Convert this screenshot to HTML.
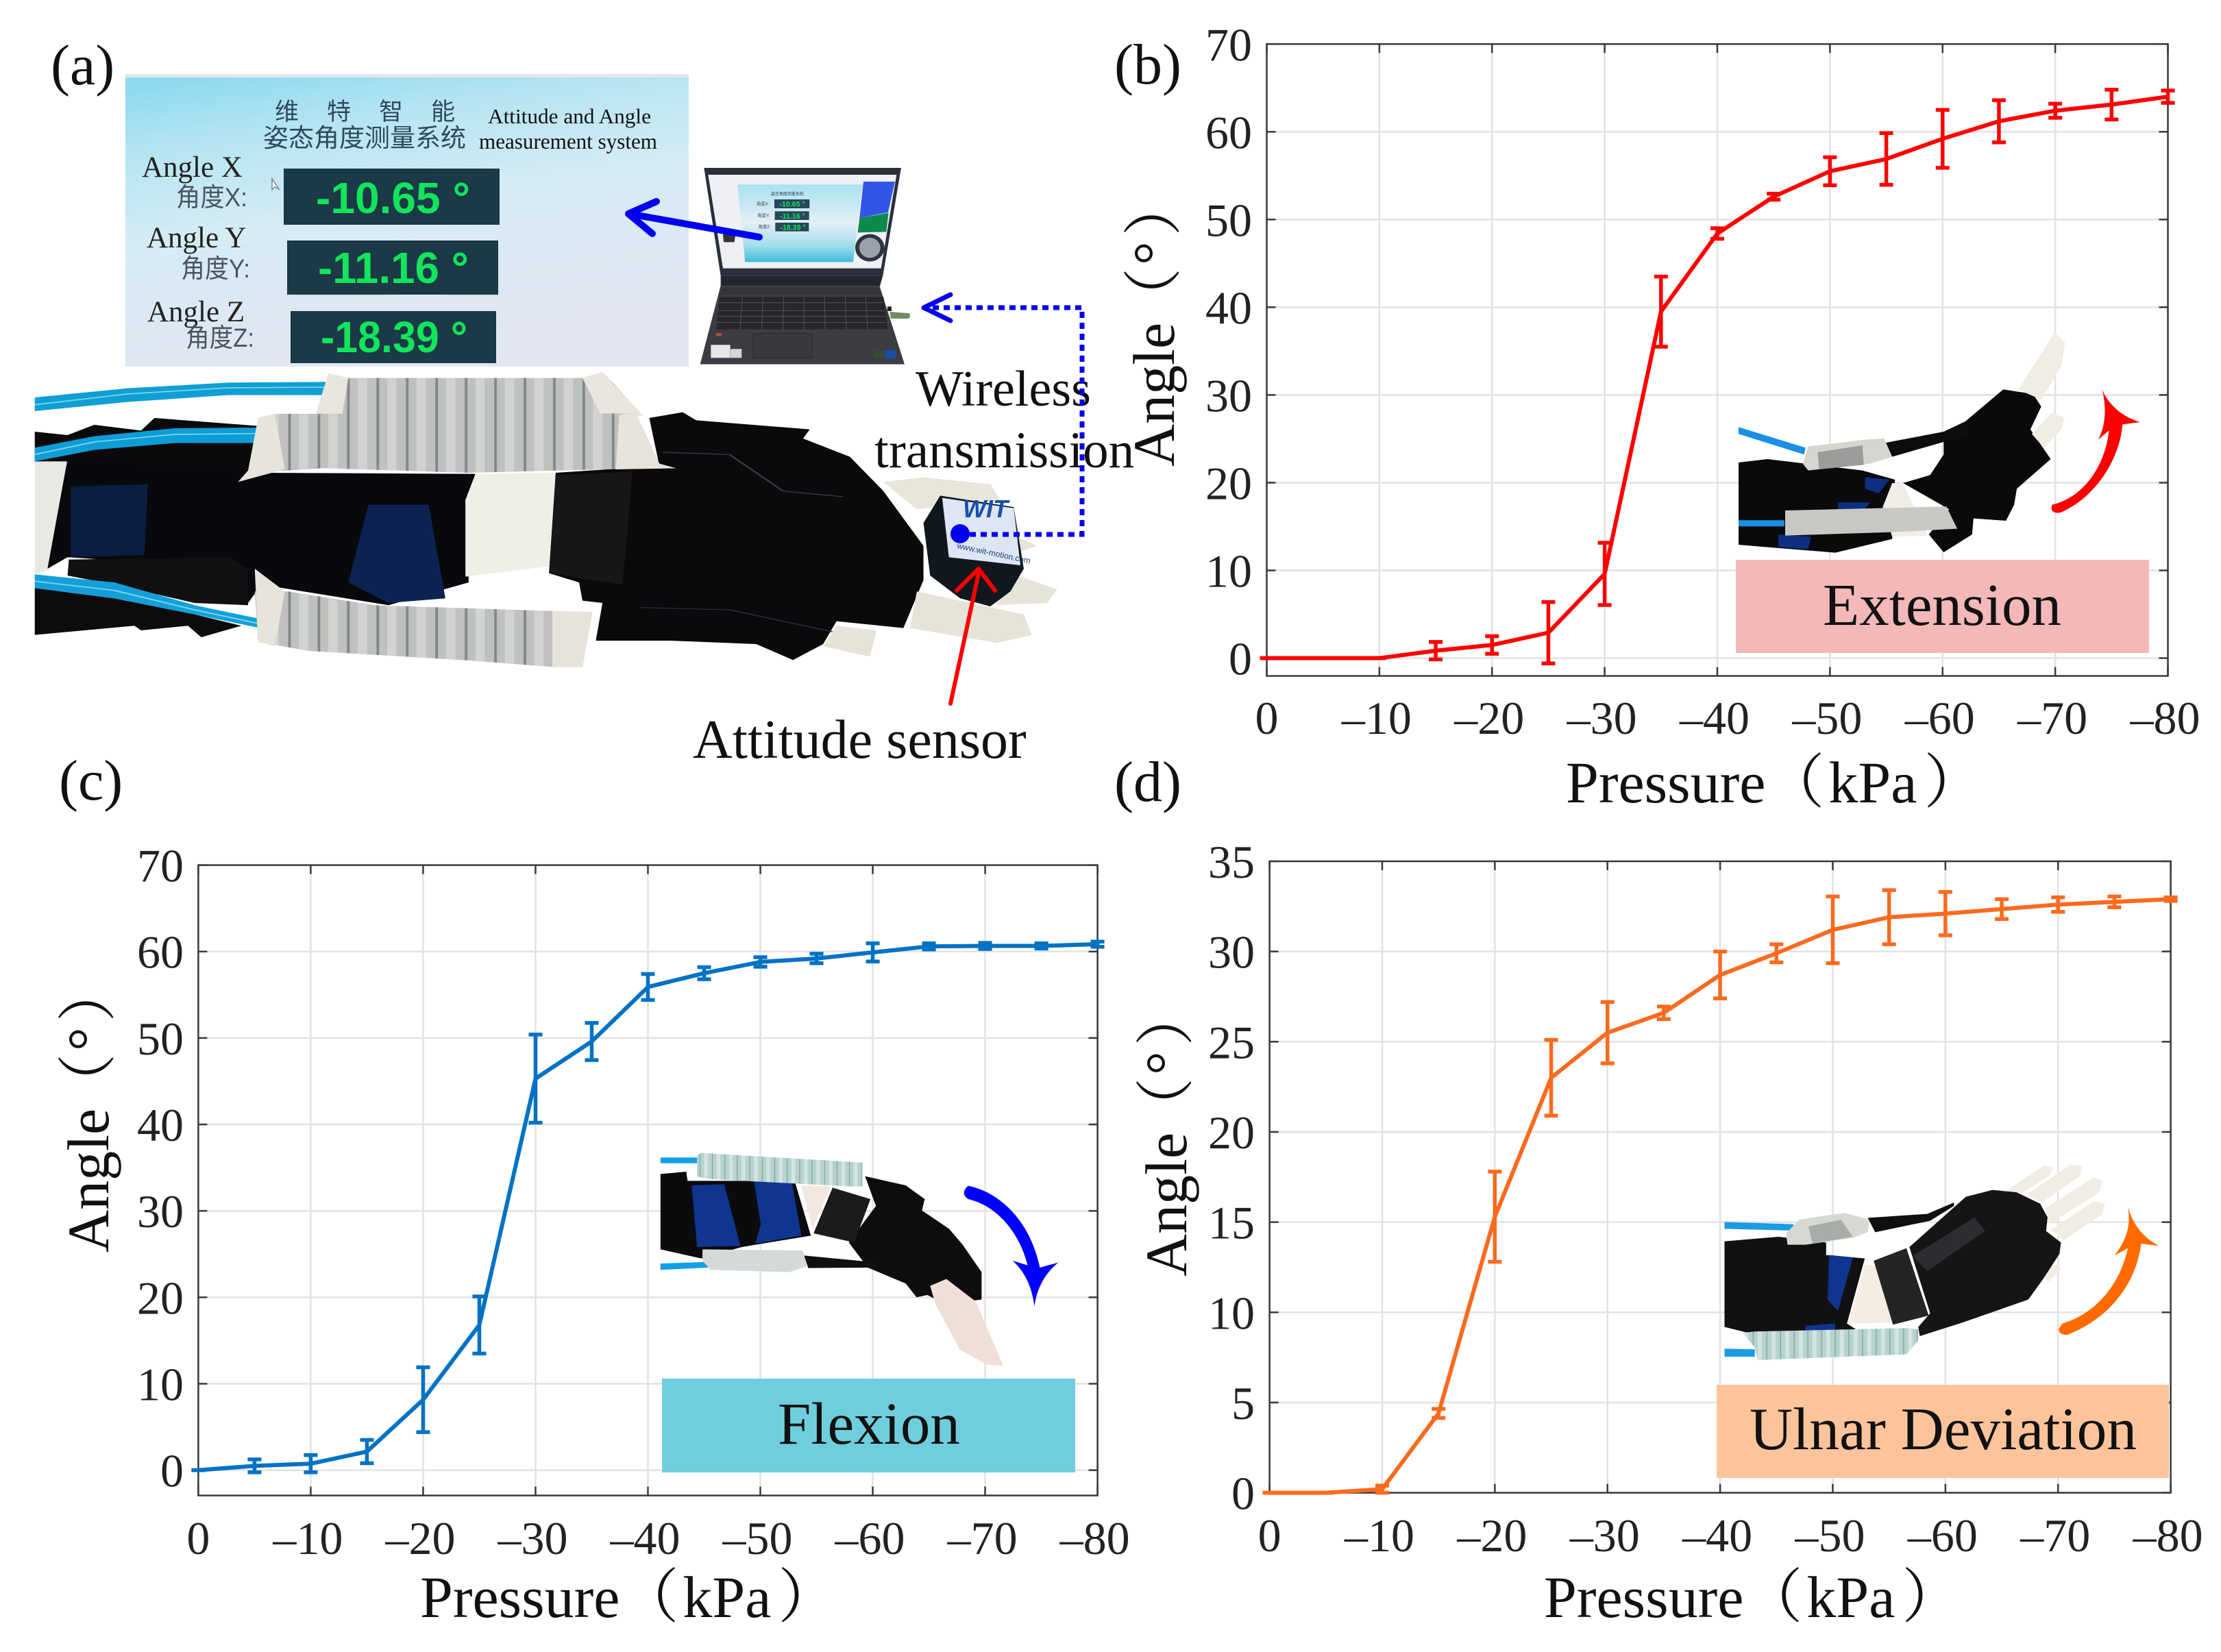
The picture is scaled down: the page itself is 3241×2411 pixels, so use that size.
<!DOCTYPE html>
<html lang="en">
<head>
<meta charset="utf-8">
<title>Wearable wrist actuator: angle versus pressure</title>
<style>
html,body{margin:0;padding:0;background:#fff;}
svg{display:block;}
text{font-family:"Liberation Serif","Noto Serif CJK SC",serif;fill:#111;}
.tick{font-size:68px;fill:#222;}
.title{font-size:86px;fill:#111;}
.panel{font-size:84px;fill:#111;}
.cn{font-family:"Liberation Sans","Noto Sans CJK SC",sans-serif;}
.lcd{font-family:"Liberation Sans",sans-serif;font-weight:700;fill:#12e45c;}
</style>
</head>
<body>
<svg id="figure" xmlns="http://www.w3.org/2000/svg" width="3241" height="2411" viewBox="0 0 3241 2411">
<defs>
<linearGradient id="screenGrad" x1="0" y1="0" x2="0.3" y2="1">
<stop offset="0" stop-color="#86d8ee"/><stop offset="0.25" stop-color="#b5e4f2"/><stop offset="0.55" stop-color="#d6ecf5"/><stop offset="1" stop-color="#e2e5f2"/>
</linearGradient>
<linearGradient id="miniGrad" x1="0" y1="0" x2="0" y2="1">
<stop offset="0" stop-color="#a8e2f1"/><stop offset="0.5" stop-color="#e4eff6"/><stop offset="0.8" stop-color="#9fdcea"/><stop offset="1" stop-color="#3cbcdc"/>
</linearGradient>
<pattern id="coil" patternUnits="userSpaceOnUse" width="44" height="120">
<rect width="44" height="120" fill="#bfc1bf"/><rect x="10" width="14" height="120" fill="#d2d3d0"/><rect x="38" width="4" height="120" fill="#84878a"/>
</pattern>
<pattern id="coilTeal" patternUnits="userSpaceOnUse" width="46" height="120">
<rect width="46" height="120" fill="#b5d3cf"/><rect x="12" width="14" height="120" fill="#d4e4e0"/><rect x="41" width="3" height="120" fill="#8a9c9a"/>
</pattern>
</defs>
<rect width="3241" height="2411" fill="#ffffff"/>

<g id="chart-b"></g>
<g id="chart-c"></g>
<g id="chart-d"></g>

<!-- panel labels -->
<text class="panel" x="74" y="123">(a)</text>
<text class="panel" x="1626" y="122">(b)</text>
<text class="panel" x="86" y="1167">(c)</text>
<text class="panel" x="1626" y="1169">(d)</text>

<!-- axis titles -->
<text class="title" x="2285" y="1171">Pressure（<tspan dx="6">kPa</tspan><tspan dx="10">）</tspan></text>
<text class="title" x="613" y="2360">Pressure（<tspan dx="6">kPa</tspan><tspan dx="10">）</tspan></text>
<text class="title" x="2253" y="2360">Pressure（<tspan dx="6">kPa</tspan><tspan dx="10">）</tspan></text>
<text class="title" transform="translate(1713 681) rotate(-90)">Angle<tspan dx="-6">（</tspan><tspan dx="4">°</tspan><tspan dx="8">）</tspan></text>
<text class="title" transform="translate(158 1828) rotate(-90)">Angle<tspan dx="-6">（</tspan><tspan dx="4">°</tspan><tspan dx="8">）</tspan></text>
<text class="title" transform="translate(1731 1863) rotate(-90)">Angle<tspan dx="-6">（</tspan><tspan dx="4">°</tspan><tspan dx="8">）</tspan></text>

<!-- panel a : software screen -->
<g>
<rect x="183" y="108" width="822" height="427" fill="url(#screenGrad)"/>
<rect x="183" y="108" width="822" height="5" fill="#e4e7ec"/>
<text class="cn" x="401" y="175" font-size="35" letter-spacing="41" style="fill:#2f4a5c">维特智能</text>
<text class="cn" x="384" y="214" font-size="37" style="fill:#2f4a5c">姿态角度测量系统</text>
<text x="712" y="180" font-size="31" textLength="238" lengthAdjust="spacingAndGlyphs">Attitude and Angle</text>
<text x="699" y="217" font-size="32" textLength="260" lengthAdjust="spacingAndGlyphs">measurement system</text>
<text x="207" y="258" font-size="43" style="fill:#222">Angle X</text>
<text class="cn" x="257" y="301" font-size="38" textLength="104" lengthAdjust="spacingAndGlyphs" style="fill:#4b5560">角度X:</text>
<text x="214" y="361" font-size="43" style="fill:#222">Angle Y</text>
<text class="cn" x="264" y="405" font-size="38" textLength="101" lengthAdjust="spacingAndGlyphs" style="fill:#4b5560">角度Y:</text>
<text x="215" y="469" font-size="43" style="fill:#222">Angle Z</text>
<text class="cn" x="271" y="506" font-size="38" textLength="100" lengthAdjust="spacingAndGlyphs" style="fill:#4b5560">角度Z:</text>
<polygon points="397,261 397,277 401,273 407,276" fill="#fff" stroke="#7a8590" stroke-width="1.5"/>
<rect x="414" y="246" width="315" height="82" fill="#1b3946"/>
<rect x="419" y="351" width="308" height="79" fill="#1b3946"/>
<rect x="424" y="454" width="300" height="76" fill="#1b3946"/>
<text class="lcd" x="461" y="311" font-size="64" textLength="225" lengthAdjust="spacingAndGlyphs">-10.65 °</text>
<text class="lcd" x="464" y="413" font-size="64" textLength="220" lengthAdjust="spacingAndGlyphs">-11.16 °</text>
<text class="lcd" x="468" y="514" font-size="64" textLength="214" lengthAdjust="spacingAndGlyphs">-18.39 °</text>
</g>

<!-- panel a : laptop -->
<g transform="translate(1000 220) scale(.3333)">
<polygon points="82,75 945,75 865,548 155,548" fill="#2b2f3c"/>
<polygon points="100,105 925,105 857,515 165,515" fill="#eef0f5"/>
<polygon points="228,148 775,148 735,487 262,487" fill="url(#miniGrad)"/>
<polygon points="780,135 918,135 888,270 763,295" fill="#3355e6"/>
<polygon points="763,295 890,272 880,355 755,358" fill="#0b8a4c"/>
<ellipse cx="808" cy="425" rx="64" ry="60" fill="#2c3442"/>
<ellipse cx="808" cy="425" rx="46" ry="44" fill="#9aa3ad"/>
<rect x="390" y="213" width="154" height="39" fill="#27465a"/>
<rect x="392" y="265" width="150" height="38" fill="#27465a"/>
<rect x="394" y="315" width="147" height="38" fill="#27465a"/>
<text class="lcd" x="412" y="245" font-size="32">-10.65 °</text>
<text class="lcd" x="414" y="297" font-size="32">-11.16 °</text>
<text class="lcd" x="415" y="346" font-size="32">-18.39 °</text>
<text class="cn" x="312" y="238" font-size="19" style="fill:#444">角度X:</text>
<text class="cn" x="316" y="290" font-size="19" style="fill:#444">角度Y:</text>
<text class="cn" x="320" y="339" font-size="19" style="fill:#444">角度Z:</text>
<text class="cn" x="375" y="195" font-size="18" style="fill:#345">姿态角度测量系统</text>
<polygon points="165,365 220,365 215,400 168,400" fill="#333"/>
<polygon points="155,548 865,548 852,592 155,592" fill="#24252d"/>
<polygon points="155,590 850,590 960,935 65,935" fill="#3c3c43"/>
<polygon points="160,600 850,600 858,632 150,632" fill="#33333a"/>
<polygon points="150,640 868,640 887,782 135,782" fill="#26262c"/>
<g stroke="#55555c" stroke-width="3">
<line x1="148" y1="665" x2="868" y2="665"/><line x1="145" y1="700" x2="872" y2="700"/><line x1="142" y1="725" x2="876" y2="725"/><line x1="138" y1="752" x2="880" y2="752"/>
<line x1="250" y1="640" x2="240" y2="782"/><line x1="340" y1="640" x2="335" y2="782"/><line x1="430" y1="640" x2="428" y2="782"/><line x1="520" y1="640" x2="520" y2="782"/><line x1="610" y1="640" x2="612" y2="782"/><line x1="700" y1="640" x2="705" y2="782"/><line x1="790" y1="640" x2="798" y2="782"/>
</g>
<rect x="297" y="800" width="257" height="107" fill="#38383e" stroke="#29292e" stroke-width="3"/>
<rect x="112" y="850" width="85" height="57" fill="#e8e8e6"/>
<rect x="198" y="868" width="49" height="39" fill="#d5d5d5"/>
<rect x="825" y="875" width="45" height="33" fill="#3a4b30"/>
<rect x="873" y="873" width="49" height="37" fill="#1c4d9e"/>
<rect x="135" y="798" width="24" height="13" fill="#b84a38"/>
<polygon points="895,705 982,712 985,728 975,735 900,735" fill="#6e8d62"/>
<rect x="885" y="682" width="18" height="20" fill="#222"/>
</g>

<!-- panel a : wearable arm -->
<g transform="translate(40 530) scale(.9758 .3333)">
<polygon points="11,430 65,420 35,900 11,925" fill="#e9e9e4"/>
<polygon points="11,300 60,315 100,270 170,295 190,240 345,275 345,480 60,430 11,430" fill="#0a0a0c"/>
<polygon points="60,420 345,480 670,485 655,600 660,960 540,1060 350,970 330,1050 330,900 60,850 30,900" fill="#08090c"/>
<polygon points="11,985 130,1030 250,1100 320,1150 260,1200 240,1150 170,1170 160,1150 11,1190" fill="#0c0c0e"/>
<polygon points="62,860 300,850 330,900 330,1060 250,1050 130,970 60,930" fill="#111114"/>
<polygon points="65,540 180,530 175,840 65,850" fill="#0b1d42"/>
<polygon points="510,620 600,620 625,1030 540,1050 480,960" fill="#0c2352"/>
<polygon points="670,485 790,480 780,890 655,935 655,600" fill="#efefe8"/>
<polygon points="790,480 945,450 930,240 980,215 1000,250 1170,290 1160,330 1230,410 1280,560 1340,800 1340,950 1310,1160 1210,1130 1190,1230 1145,1300 1090,1230 960,1215 850,1215 860,1050 830,1040 825,960 780,920" fill="#0a0a0d"/>
<polygon points="790,490 905,475 890,970 780,920" fill="#17171a"/>
<polyline points="950,390 1050,400 1130,560 1220,585" fill="none" stroke="#3a3a3e" stroke-width="4"/>
<polyline points="915,1070 1050,1080 1210,1180" fill="none" stroke="#2e2e32" stroke-width="4"/>
<polygon points="1280,520 1340,500 1440,530 1455,600 1330,640" fill="#e8e6da"/>
<polygon points="1330,1000 1490,1100 1502,1190 1450,1225 1320,1160" fill="#e6e4d8"/>
<polygon points="1480,930 1540,990 1525,1050 1450,1060 1440,1000" fill="#e6e4d8"/>
<polygon points="1210,1150 1270,1170 1260,1285 1190,1240" fill="#e6e4d8"/>
<polygon points="1480,760 1510,800 1480,830" fill="#e6e4d8"/>
<polygon points="11,150 150,110 300,85 448,82 448,140 300,140 150,170 11,210" fill="#0f9fd4"/>
<polyline points="11,182 150,135 300,108 448,105" fill="none" stroke="#7fd4ee" stroke-width="5"/>
<polygon points="11,370 100,320 220,285 345,282 345,350 220,350 100,380 11,430" fill="#0e9dd6"/>
<polyline points="11,400 100,345 220,312 345,308" fill="none" stroke="#7fd4ee" stroke-width="5"/>
<polygon points="11,925 130,960 250,1060 348,1120 345,1158 250,1100 130,1030 11,985" fill="#13a0d8"/>
<polyline points="11,955 130,995 250,1080 345,1140" fill="none" stroke="#7fd4ee" stroke-width="5"/>
<polygon points="450,45 480,65 830,65 860,40 880,100 920,230 800,260 450,240 430,235" fill="url(#coil)"/>
<polygon points="450,45 480,65 470,235 430,235" fill="#e8e6de"/>
<polygon points="830,65 860,40 920,230 860,240" fill="#e8e6de"/>
<polygon points="345,240 370,222 910,220 945,440 970,460 860,465 660,480 440,460 340,480 345,350" fill="url(#coil)"/>
<polygon points="345,240 370,222 385,465 315,520 330,470" fill="#e6e4db"/>
<polygon points="885,225 910,220 945,440 970,460 880,465" fill="#e6e4db"/>
<polygon points="340,1000 390,1000 520,1060 780,1085 845,1090 830,1330 785,1330 650,1300 420,1260 345,1220" fill="url(#coil)"/>
<polygon points="340,900 385,1000 370,1240 345,1220" fill="#e6e4db"/>
<polygon points="785,1085 845,1090 830,1330 785,1330" fill="#e6e4db"/>
<polygon points="1365,580 1475,630 1490,900 1470,1000 1440,1065 1395,1030 1350,930 1340,700" fill="#10171f"/>
<polygon points="1368,590 1475,635 1485,885 1378,850" fill="#dde6f2"/>
</g>
<text x="1405" y="755" font-size="36" font-weight="700" font-style="italic" style="fill:#1d4fa8;font-family:'Liberation Sans',sans-serif">WIT</text>
<text transform="translate(1396 800) rotate(12)" font-size="12" style="fill:#1d3f80;font-family:'Liberation Sans',sans-serif">www.wit-motion.com</text>

<text x="1336" y="592" font-size="74">Wireless</text>
<text x="1276" y="682" font-size="75">transmission</text>
<text x="1011" y="1106" font-size="80">Attitude sensor</text>

<g fill="none" stroke-linecap="round">
<polyline points="1108,346 918,312" stroke="#0000ee" stroke-width="10"/>
<polyline points="958,294 917,312 952,341" stroke="#0000ee" stroke-width="10" stroke-linejoin="round"/>
<polyline points="1415,780 1579,780 1579,449 1355,449" stroke="#0000ee" stroke-width="7" stroke-dasharray="9 7" stroke-linecap="butt"/>
<polyline points="1387,430 1348,449 1387,468" stroke="#0000ee" stroke-width="7" stroke-linejoin="round"/>
<circle cx="1401" cy="779" r="14" fill="#0000ee" stroke="none"/>
<polyline points="1387,1027 1429,832" stroke="#ff0000" stroke-width="6"/>
<polyline points="1396,862 1428,830 1452,862" stroke="#ff0000" stroke-width="6" stroke-linejoin="round"/>
</g>

<!-- panel b inset -->
<g transform="translate(2520 470) scale(.3954 .3333)">
<polygon points="43,460 290,550 285,580 43,490" fill="#1a8fe6"/>
<polygon points="43,615 150,600 500,650 620,690 610,950 400,1010 140,985 43,975" fill="#0a0a0c"/>
<polygon points="510,680 600,690 560,750 510,730" fill="#0d2f80"/>
<polygon points="410,790 530,790 500,830 410,820" fill="#0d2f80"/>
<polygon points="190,930 310,940 300,995 190,985" fill="#0d2f80"/>
<polygon points="610,705 650,705 690,810 740,935 610,940 575,810" fill="#f1eee6"/>
<polygon points="650,705 750,670 800,580 800,525 880,435 1020,295 1130,315 1160,370 1120,470 1195,600 1070,730 1060,800 1030,870 910,860 905,930 800,1008 745,930 820,820" fill="#0a0a0b"/>
<polygon points="1075,295 1210,45 1248,90 1235,190 1160,340" fill="#f0ede5"/>
<polygon points="1125,490 1200,395 1245,420 1235,470 1170,550" fill="#f0ede5"/>
<polygon points="580,530 800,480 880,435 900,500 800,525 610,590" fill="#0c0c0e"/>
<polygon points="280,620 300,545 510,515 580,510 610,590 530,620 300,650" fill="#d6d6d0"/>
<polygon points="335,570 500,540 505,625 340,645" fill="#9b9d9a"/>
<polygon points="215,825 810,808 850,905 610,920 215,935" fill="#c8c8c4"/>
<polygon points="43,868 212,868 212,895 43,895" fill="#1a8fe6"/>
<path d="M1200,800 C1310,770 1395,640 1410,475 L1370,515 C1400,450 1400,370 1385,295 C1410,370 1470,420 1525,438 L1460,448 C1450,600 1360,770 1230,835 Q1190,840 1200,800Z" fill="#ff0000"/>
</g>
<rect x="2533" y="817" width="603" height="136" fill="#f4b8b8"/>
<text x="2660" y="912" font-size="87">Extension</text>

<!-- panel c inset -->
<g transform="translate(950 1660) scale(.3954 .3333)">
<polygon points="35,88 170,88 170,113 35,113" fill="#10a0e8"/>
<polygon points="35,552 210,545 210,570 35,580" fill="#10a0e8"/>
<polygon points="35,160 130,150 135,190 530,190 590,430 335,480 185,530 35,490" fill="#0b0b0d"/>
<polygon points="150,210 270,205 330,475 170,480" fill="#0f3590"/>
<polygon points="380,190 520,200 555,430 385,465 405,380" fill="#0f3590"/>
<polygon points="555,210 665,215 595,400" fill="#f2e6e0"/>
<polygon points="790,170 940,210 1010,270 1000,320 1100,400 1150,470 1220,590 1220,710 1085,730 1020,690 980,700 940,640 800,570 730,460 830,300" fill="#0d0d0f"/>
<polygon points="670,220 810,270 750,460 600,420" fill="#1b1b1d"/>
<polygon points="170,80 185,68 780,110 780,215 740,215 210,182 170,170" fill="url(#coilTeal)"/>
<polygon points="190,490 560,495 575,565 510,590 220,580 190,540" fill="#d5dad6"/>
<polygon points="565,517 810,545 840,570 580,572" fill="#101012"/>
<polygon points="1030,650 1090,620 1200,720 1300,1000 1240,995 1140,930 1050,730" fill="#f0dfd6"/>
<path d="M1170,212 C1290,240 1400,370 1435,570 L1503,548 C1460,590 1425,650 1415,740 C1405,650 1380,590 1335,540 L1390,560 C1360,420 1280,300 1170,270 Q1140,245 1170,212 Z" fill="#0000ff"/>
</g>
<rect x="966" y="2012" width="603" height="137" fill="#6fcedd"/>
<text x="1135" y="2107" font-size="87">Flexion</text>

<!-- panel d inset -->
<g transform="translate(2500 1700) scale(.4337 .3333)">
<polygon points="38,250 270,260 270,288 38,280" fill="#1a9be4"/>
<polygon points="38,805 140,808 140,840 38,840" fill="#1a9be4"/>
<polygon points="38,335 220,315 380,340 380,395 510,410 450,695 480,720 290,735 130,740 38,710" fill="#111113"/>
<polygon points="390,395 470,405 420,640 385,590" fill="#0f3590"/>
<polygon points="310,705 410,695 410,730 310,735" fill="#0f3590"/>
<polygon points="510,435 570,450 605,690 455,695" fill="#f3ede3"/>
<polygon points="985,115 1110,5 1145,10 1130,50 1035,125" fill="#f0ede5"/>
<polygon points="1055,130 1200,0 1240,5 1235,50 1105,165" fill="#f0ede5"/>
<polygon points="1115,190 1280,55 1310,70 1300,120 1130,260" fill="#f0ede5"/>
<polygon points="1135,285 1280,160 1318,170 1310,215 1180,330" fill="#f0ede5"/>
<polygon points="1085,480 1150,435 1172,455 1130,510" fill="#f0ede5"/>
<polygon points="660,360 850,140 940,110 1020,120 1100,170 1125,230 1120,290 1170,340 1165,390 1110,500 1060,590 840,690 695,750 690,710 730,650" fill="#151516"/>
<polygon points="540,420 650,365 725,660 605,700" fill="#242426"/>
<polygon points="670,400 880,230 915,290 720,465" fill="#2c2d30"/>
<polygon points="520,232 720,215 810,165 810,180 730,245 545,295" fill="#0f0f10"/>
<polygon points="245,300 290,240 440,210 525,240 520,295 470,320 310,350 250,350" fill="#d8d8d2"/>
<polygon points="320,270 430,240 470,315 335,345" fill="#a9adaa"/>
<polygon points="100,735 140,730 650,715 690,720 690,770 650,830 150,855 140,800" fill="url(#coilTeal)"/>
<path d="M1175,695 C1290,650 1370,520 1395,365 L1350,398 C1395,320 1405,260 1395,185 C1415,270 1450,320 1500,355 L1440,345 C1420,540 1320,680 1190,745 Q1145,740 1175,695 Z" fill="#ff6a00"/>
</g>
<rect x="2505" y="2021" width="660" height="136" fill="#fdc49b"/>
<text x="2553" y="2115" font-size="88" textLength="565" lengthAdjust="spacingAndGlyphs">Ulnar Deviation</text>
</svg>

<script>
// Shared x values (pressure, kPa)
const pressureKpa = [0,-5,-10,-15,-20,-25,-30,-35,-40,-45,-50,-55,-60,-65,-70,-75,-80];
const xTickValues = [0,-10,-20,-30,-40,-50,-60,-70,-80];
const xTickLabels = ["0","–10","–20","–30","–40","–50","–60","–70","–80"];

// Extension (b)
const extensionAngle = [0,0,0,0.85,1.5,2.9,9.6,39.5,48.4,52.6,55.5,56.9,59.2,61.2,62.4,63.1,64.0];
const extensionError = [0,0,0,1.0,1.0,3.5,3.55,4.0,0.6,0.35,1.6,2.95,3.3,2.4,0.8,1.7,0.7];
const extensionYTicks = [0,10,20,30,40,50,60,70];

// Flexion (c)
const flexionAngle = [0,0.5,0.75,2.15,8.15,16.8,45.3,49.6,55.9,57.5,58.8,59.2,59.9,60.6,60.65,60.65,60.85];
const flexionError = [0,0.75,1.0,1.35,3.75,3.3,5.1,2.15,1.5,0.7,0.55,0.55,1.05,0.35,0.35,0.3,0.3];
const flexionYTicks = [0,10,20,30,40,50,60,70];

// Ulnar deviation (d)
const ulnarAngle = [0,0,0.2,4.4,15.3,23.0,25.5,26.6,28.7,29.9,31.2,31.9,32.1,32.35,32.6,32.75,32.9];
const ulnarError = [0,0,0.2,0.25,2.5,2.1,1.7,0.35,1.3,0.5,1.85,1.5,1.2,0.55,0.4,0.3,0.1];
const ulnarYTicks = [0,5,10,15,20,25,30,35];

const SVG_NS = 'http://www.w3.org/2000/svg';

function seg(parent, x1, y1, x2, y2, stroke, width) {
  const el = document.createElementNS(SVG_NS, 'line');
  el.setAttribute('x1', x1);
  el.setAttribute('y1', y1);
  el.setAttribute('x2', x2);
  el.setAttribute('y2', y2);
  el.setAttribute('stroke', stroke);
  el.setAttribute('stroke-width', width);
  parent.appendChild(el);
  return el;
}

function drawChart(id, box, yMin, yMax, yTicks, values, errors, color) {
  const root = document.getElementById(id);
  const xScale = v => box.left + (box.right - box.left) * (v / -80);
  const yScale = v => box.bottom - (box.bottom - box.top) * (v - yMin) / (yMax - yMin);

  // Grid
  xTickValues.forEach(v => {
    const grid = seg(root, xScale(v), box.top, xScale(v), box.bottom, '#e2e2e2', 2.5);
    
    
  });
  yTicks.forEach(v => {
    const grid = seg(root, box.left, yScale(v), box.right, yScale(v), '#e2e2e2', 2.5);
    
    
  });

  // Axes box
  const frame = document.createElementNS(SVG_NS, 'rect');
  frame.setAttribute('x', box.left);
  frame.setAttribute('y', box.top);
  frame.setAttribute('width', box.right - box.left);
  frame.setAttribute('height', box.bottom - box.top);
  frame.setAttribute('fill', 'none');
  frame.setAttribute('stroke', '#3a3a3a');
  frame.setAttribute('stroke-width', '2.5');
  
  
  root.appendChild(frame);

  // Ticks and tick labels
  xTickValues.forEach((v, i) => {
    const x = xScale(v);
    const t1 = seg(root, x, box.bottom, x, box.bottom - 13, '#3a3a3a', 2.5);
    
    
    const t2 = seg(root, x, box.top, x, box.top + 13, '#3a3a3a', 2.5);
    
    
    const label = document.createElementNS(SVG_NS, 'text');
    label.setAttribute('class', 'tick');
    label.setAttribute('x', i === 0 ? x : x - 4);
    label.setAttribute('y', box.xLabelY);
    label.setAttribute('text-anchor', 'middle');
    label.textContent = xTickLabels[i];
    
    
    root.appendChild(label);
  });
  yTicks.forEach(v => {
    const y = yScale(v);
    const t1 = seg(root, box.left, y, box.left + 13, y, '#3a3a3a', 2.5);
    
    
    const t2 = seg(root, box.right, y, box.right - 13, y, '#3a3a3a', 2.5);
    
    
    const label = document.createElementNS(SVG_NS, 'text');
    label.setAttribute('class', 'tick');
    label.setAttribute('x', box.yLabelX);
    label.setAttribute('y', y + 24);
    label.setAttribute('text-anchor', 'end');
    label.textContent = String(v);
    
    
    root.appendChild(label);
  });

  // Error bars
  values.forEach((v, i) => {
    const x = xScale(pressureKpa[i]);
    const hi = yScale(v + errors[i]);
    const lo = yScale(v - errors[i]);
    const bar = seg(root, x, hi, x, lo, color, 5.5);
    
    
    const capTop = seg(root, x - 10, hi, x + 10, hi, color, 5.5);
    
    
    const capBottom = seg(root, x - 10, lo, x + 10, lo, color, 5.5);
    
    
  });

  // Series line
  const line = document.createElementNS(SVG_NS, 'polyline');
  line.setAttribute('points', values.map((v, i) => xScale(pressureKpa[i]) + ',' + yScale(v)).join(' '));
  line.setAttribute('fill', 'none');
  line.setAttribute('stroke', color);
  line.setAttribute('stroke-width', '6');
  line.setAttribute('stroke-linejoin', 'round');
  
  
  root.appendChild(line);
}

drawChart('chart-b', {left:1848.5, right:3163.5, top:64.3, bottom:986.5, xLabelY:1071, yLabelX:1827},
  -2.03, 70, extensionYTicks, extensionAngle, extensionError, '#ff0000');
drawChart('chart-c', {left:289.4, right:1601.6, top:1262.6, bottom:2182.6, xLabelY:2268, yLabelX:268},
  -2.93, 70, flexionYTicks, flexionAngle, flexionError, '#0072c4');
drawChart('chart-d', {left:1852.6, right:3167.6, top:1257, bottom:2178.6, xLabelY:2264, yLabelX:1831},
  0, 35, ulnarYTicks, ulnarAngle, ulnarError, '#fb6a1e');
</script>
</body>
</html>
